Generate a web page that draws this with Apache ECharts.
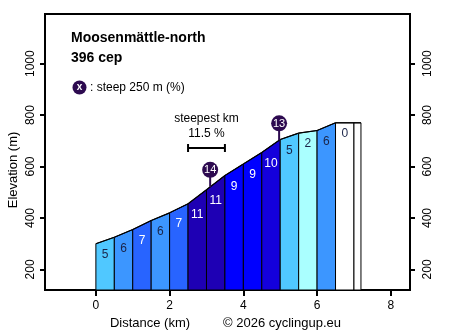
<!DOCTYPE html>
<html>
<head>
<meta charset="utf-8">
<script src="https://cdn.jsdelivr.net/npm/echarts@6/dist/echarts.min.js"></script>
<style>
  html, body { margin: 0; padding: 0; background: #fff; }
  #chart { width: 450px; height: 336px; }
</style>
</head>
<body>
<div id="chart"></div>
<script>
// Climb profile: distance (km) and elevation (m) at each segment boundary
const distances  = [0, 0.5, 1, 1.5, 2, 2.5, 3, 3.5, 4, 4.5, 5, 5.5, 6, 6.5, 7, 7.19];
const elevations = [300, 325, 355, 390, 420, 455, 510, 565, 610, 655, 705, 730, 740, 770, 770, 770];
// Average gradient (%) of each segment and the label printed in it
const gradients   = [5, 6, 7, 6, 7, 11, 11, 9, 9, 10, 5, 2, 6, 0, 0];
const gradeLabels = ['5', '6', '7', '6', '7', '11', '11', '9', '9', '10', '5', '2', '6', '0', ''];
// Steepest 250 m stretches: position (km) and gradient (%)
const steepKm   = [3.1, 4.97];
const steepVals = [14, 13];
// Steepest kilometre
const steepestFrom = 2.5;
const steepestTo   = 3.5;
const steepestPct  = 11.5;
// Axis ticks
const xTicks = [0, 2, 4, 6, 8];
const yTicks = [200, 400, 600, 800, 1000];

const climbName = 'Moosenmättle-north';
const climbScore = '396 cep';

const X_MIN = -1.38, X_MAX = 8.52;
const Y_MIN = 120, Y_MAX = 1193;
const FONT = '"Liberation Sans", Arial, sans-serif';

function gradeColor(g) {
  if (g <= 0) return '#ffffff';
  if (g <= 2) return '#aaffff';
  if (g <= 4) return '#78e6ff';
  if (g <= 5) return '#50c8ff';
  if (g <= 6) return '#3c96ff';
  if (g <= 8) return '#2864ff';
  if (g <= 9) return '#0000ff';
  if (g <= 10) return '#1400dc';
  if (g <= 12) return '#1e00b4';
  return '#2d0a50';
}
function gradeTextColor(g) {
  return g >= 7 ? '#ffffff' : '#1a2448';
}
function elevationAt(km) {
  for (let i = 0; i < distances.length - 1; i++) {
    if (km >= distances[i] && km <= distances[i + 1]) {
      const t = (km - distances[i]) / (distances[i + 1] - distances[i]);
      return elevations[i] + t * (elevations[i + 1] - elevations[i]);
    }
  }
  return elevations[elevations.length - 1];
}

const segments = gradients.map((g, i) => [distances[i], distances[i + 1], elevations[i], elevations[i + 1], g, i]);
const steepPoints = steepKm.map((km, i) => [km, elevationAt(km), steepVals[i]]);

const chart = echarts.init(document.getElementById('chart'), null, { renderer: 'canvas' });

const tickStyle = { color: '#000', width: 2 };
const frameLine = { show: true, onZero: false, lineStyle: { color: '#000', width: 2 } };
const plainNumber = v => String(v);

chart.setOption({
  animation: false,
  backgroundColor: '#fff',
  grid: { left: 45, right: 40, top: 14, bottom: 46, show: true, borderColor: '#000', borderWidth: 2, backgroundColor: 'transparent' },
  xAxis: {
    type: 'value', min: X_MIN, max: X_MAX,
    axisLine: frameLine,
    splitLine: { show: false },
    axisTick: { show: true, inside: false, length: 6, lineStyle: tickStyle, customValues: xTicks },
    axisLabel: { color: '#000', fontSize: 12, fontFamily: FONT, margin: 10, customValues: xTicks, formatter: plainNumber }
  },
  yAxis: [
    {
      type: 'value', min: Y_MIN, max: Y_MAX, position: 'left',
      axisLine: frameLine, splitLine: { show: false },
      axisTick: { show: true, inside: false, length: 5, lineStyle: tickStyle, customValues: yTicks },
      axisLabel: { color: '#000', fontSize: 12, fontFamily: FONT, rotate: 90, margin: 8, customValues: yTicks, formatter: plainNumber }
    },
    {
      type: 'value', min: Y_MIN, max: Y_MAX, position: 'right',
      axisLine: frameLine, splitLine: { show: false },
      axisTick: { show: true, inside: false, length: 5, lineStyle: tickStyle, customValues: yTicks },
      axisLabel: { color: '#000', fontSize: 12, fontFamily: FONT, rotate: 90, margin: 12, customValues: yTicks, formatter: plainNumber }
    }
  ],
  series: [
    {
      // coloured profile segments
      type: 'custom',
      data: segments,
      clip: true,
      renderItem: function (params, api) {
        const x0 = api.value(0), x1 = api.value(1);
        const e0 = api.value(2), e1 = api.value(3);
        const g = api.value(4);
        const idx = api.value(5);
        const t0 = api.coord([x0, e0]);
        const t1 = api.coord([x1, e1]);
        const b0 = api.coord([x0, Y_MIN]);
        const b1 = api.coord([x1, Y_MIN]);
        const children = [
          {
            type: 'polygon',
            shape: { points: [b0, t0, t1, b1] },
            style: { fill: gradeColor(g), stroke: '#000', lineWidth: 1 }
          },
          {
            type: 'polyline',
            shape: { points: [t0, t1] },
            style: { stroke: '#000', lineWidth: 1.2, fill: null }
          }
        ];
        const label = gradeLabels[idx];
        if (label) {
          children.push({
            type: 'text',
            style: {
              x: (t0[0] + t1[0]) / 2, y: t0[1] + 11,
              text: label, fill: gradeTextColor(g),
              font: '12px ' + FONT, align: 'center', verticalAlign: 'middle'
            }
          });
        }
        return { type: 'group', children: children };
      }
    },
    {
      // steepest 250 m markers
      type: 'custom',
      data: steepPoints,
      clip: false,
      z: 5,
      renderItem: function (params, api) {
        const p = api.coord([api.value(0), api.value(1)]);
        const cy = p[1] - 17;
        return {
          type: 'group',
          children: [
            { type: 'line', shape: { x1: p[0], y1: p[1], x2: p[0], y2: cy }, style: { stroke: '#2d0a50', lineWidth: 2 } },
            { type: 'circle', shape: { cx: p[0], cy: cy, r: 8 }, style: { fill: '#2d0a50' } },
            { type: 'text', style: { x: p[0], y: cy + 0.5, text: String(api.value(2)), fill: '#ffffff', font: '11px ' + FONT, align: 'center', verticalAlign: 'middle' } }
          ]
        };
      }
    },
    {
      // steepest kilometre bracket
      type: 'custom',
      data: [[steepestFrom, steepestTo, steepestPct]],
      clip: false,
      z: 5,
      renderItem: function (params, api) {
        const a = api.coord([api.value(0), 672]);
        const b = api.coord([api.value(1), 672]);
        const y = a[1];
        const cx = (a[0] + b[0]) / 2;
        return {
          type: 'group',
          children: [
            { type: 'line', shape: { x1: a[0], y1: y, x2: b[0], y2: y }, style: { stroke: '#000', lineWidth: 2 } },
            { type: 'line', shape: { x1: a[0], y1: y - 4, x2: a[0], y2: y + 4 }, style: { stroke: '#000', lineWidth: 2 } },
            { type: 'line', shape: { x1: b[0], y1: y - 4, x2: b[0], y2: y + 4 }, style: { stroke: '#000', lineWidth: 2 } },
            { type: 'text', style: { x: cx, y: y - 29, text: 'steepest km', fill: '#000', font: '12px ' + FONT, align: 'center', verticalAlign: 'middle' } },
            { type: 'text', style: { x: cx, y: y - 14, text: api.value(2).toFixed(1) + ' %', fill: '#000', font: '12px ' + FONT, align: 'center', verticalAlign: 'middle' } }
          ]
        };
      }
    }
  ],
  graphic: [
    { type: 'text', left: 71, top: 31, style: { text: climbName, fill: '#000', font: 'bold 14px ' + FONT } },
    { type: 'text', left: 71, top: 51, style: { text: climbScore, fill: '#000', font: 'bold 14px ' + FONT } },
    { type: 'circle', shape: { cx: 79.5, cy: 87.5, r: 7 }, style: { fill: '#2d0a50' } },
    { type: 'text', x: 79.5, y: 87.5, style: { text: 'x', fill: '#fff', font: 'bold 10px ' + FONT, align: 'center', verticalAlign: 'middle' } },
    { type: 'text', x: 90, y: 87.5, style: { text: ': steep 250 m (%)', fill: '#000', font: '12px ' + FONT, align: 'left', verticalAlign: 'middle' } },
    { type: 'text', x: 13, y: 170, rotation: Math.PI / 2, style: { text: 'Elevation (m)', fill: '#000', font: '13px ' + FONT, align: 'center', verticalAlign: 'middle' } },
    { type: 'text', x: 150, y: 323, style: { text: 'Distance (km)', fill: '#000', font: '13px ' + FONT, align: 'center', verticalAlign: 'middle' } },
    { type: 'text', x: 282, y: 323, style: { text: '© 2026 cyclingup.eu', fill: '#000', font: '13px ' + FONT, align: 'center', verticalAlign: 'middle' } }
  ]
});
</script>
</body>
</html>
